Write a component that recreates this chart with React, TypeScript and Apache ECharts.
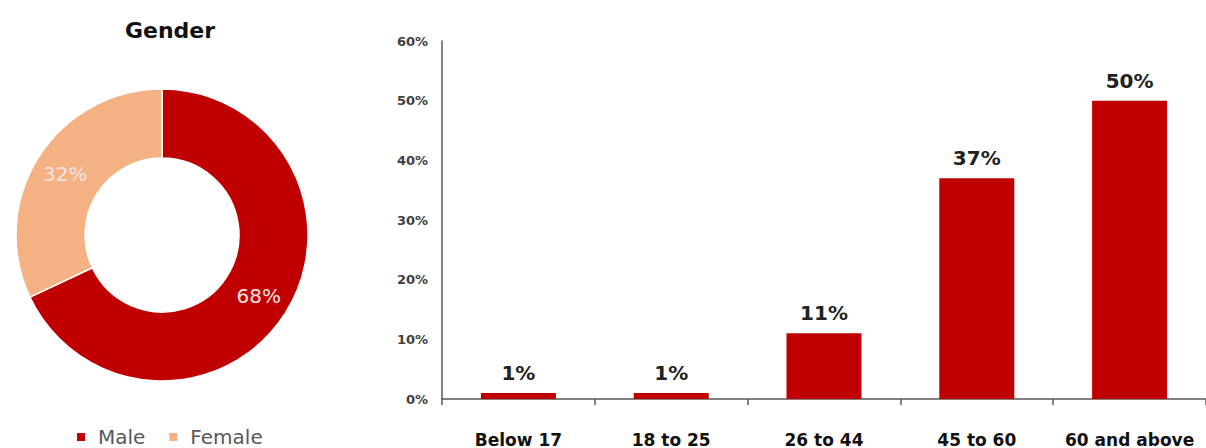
import React, { useEffect, useRef } from "react";
import * as echarts from "echarts";

const genderNames = ["Male", "Female"];
const genderValues = [68, 32];
const genderColors = ["#C00000", "#F4B183"];

const ageCategories = ["Below 17", "18 to 25", "26 to 44", "45 to 60", "60 and above"];
const ageValues = [0.01, 0.01, 0.11, 0.37, 0.5];

const FONT = "'DejaVu Sans', sans-serif";

export default function App() {
  const ref = useRef<HTMLDivElement>(null);

  useEffect(() => {
    if (!ref.current) return;
    const chart = echarts.init(ref.current, null, { renderer: "svg" });
    const option: any = {
      animation: false,
      backgroundColor: "#ffffff",
      textStyle: { fontFamily: FONT },
      title: {
        text: "Gender",
        left: 165,
        top: 14,
        textAlign: "center",
        textStyle: { fontFamily: FONT, fontSize: 22, fontWeight: "bold", color: "#111111" },
      },
      legend: {
        data: genderNames,
        left: 70,
        top: 422,
        itemWidth: 10,
        itemHeight: 10,
        itemGap: 22,
        icon: "rect",
        textStyle: {
          fontFamily: FONT,
          fontSize: 20,
          lineHeight: 20,
          color: "#595959",
          padding: [0, 0, 0, 7],
        },
      },
      grid: { left: 442, right: -4, top: 41, bottom: 49, containLabel: false },
      xAxis: {
        type: "category",
        data: ageCategories,
        axisLine: { lineStyle: { color: "#595959", width: 1.5 } },
        axisTick: { show: true, alignWithLabel: false, length: 6, lineStyle: { color: "#595959", width: 1.5 } },
        axisLabel: {
          margin: 32,
          fontFamily: FONT,
          fontSize: 17,
          lineHeight: 17,
          fontWeight: "bold",
          color: "#111111",
          interval: 0,
        },
      },
      yAxis: {
        type: "value",
        min: 0,
        max: 0.6,
        interval: 0.1,
        axisLine: { show: true, lineStyle: { color: "#595959", width: 1.5 } },
        axisTick: { show: false },
        splitLine: { show: false },
        axisLabel: {
          margin: 14,
          fontFamily: FONT,
          fontSize: 13,
          fontWeight: "bold",
          color: "#404040",
          formatter: (v: number) => `${Math.round(v * 100)}%`,
        },
      },
      series: [
        {
          type: "pie",
          center: [162, 235],
          radius: [77, 146],
          startAngle: 90,
          clockwise: true,
          data: genderNames.map((n, i) => ({
            name: n,
            value: genderValues[i],
            itemStyle: { color: genderColors[i] },
          })),
          itemStyle: { borderColor: "#ffffff", borderWidth: 1.5 },
          label: {
            show: true,
            position: "inside",
            formatter: (p: any) => `${p.value}%`,
            fontFamily: FONT,
            fontSize: 20,
            color: "#F6E4E2",
          },
          labelLine: { show: false },
          emphasis: { disabled: true },
        },
        {
          type: "bar",
          data: ageValues,
          barWidth: 75,
          itemStyle: { color: "#C00000" },
          label: {
            show: true,
            position: "top",
            distance: 10,
            fontFamily: FONT,
            fontSize: 20,
            fontWeight: "bold",
            color: "#222222",
            formatter: (p: any) => `${Math.round(p.value * 100)}%`,
          },
        },
      ],
    };
    chart.setOption(option);
    return () => chart.dispose();
  }, []);

  return (
    <div
      ref={ref}
      style={{ position: "fixed", left: 0, top: 0, width: 1206, height: 448, background: "#fff" }}
    />
  );
}
